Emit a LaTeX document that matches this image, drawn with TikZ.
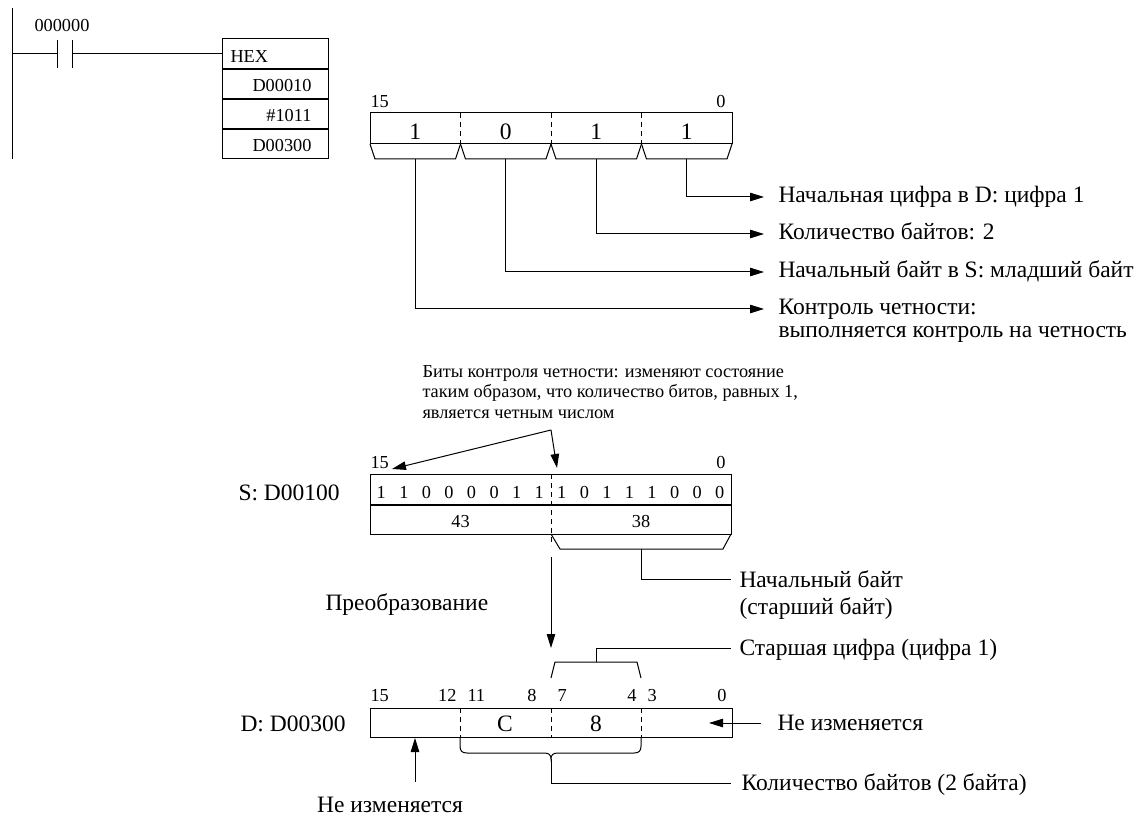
\documentclass[tikz,border=0pt]{standalone}
\usepackage{fontspec}
\setmainfont{Liberation Serif}
\usetikzlibrary{arrows.meta,calc,positioning}
\tikzset{
  big/.style={font=\fontsize{23.5}{25}\selectfont, inner sep=0pt},
  small/.style={font=\fontsize{18.3}{20}\selectfont, inner sep=0pt},
  ladderrow/.style={draw, minimum width=106pt, minimum height=30pt, inner sep=0pt, outer sep=0pt},
  regbox/.style={draw, inner sep=0pt, outer sep=0pt, anchor=north west},
  sepline/.style={line width=2pt},
  dashdiv/.style={dash pattern=on 5pt off 4pt},
  arr/.style={-{Triangle[length=14pt,width=8.5pt]}},
}

\begin{document}
\begin{tikzpicture}[x=1pt,y=-1pt,line width=1pt]
  \useasboundingbox (0,0) rectangle (1144,818);
  \def\bl{370}
  \def\bw{90.5}
  \def\sw{22.5625}
  %Ladder rung
  \coordinate (railtop) at (12,8);
  \coordinate (railbot) at (12,159);
  \coordinate (rung) at (12,54);
  \coordinate (cl) at (57,54);
  \coordinate (cr) at (72,54);
  \draw (railtop) -- (railbot);
  \draw (rung) -- (cl);
  \draw ($(cl)+(0,-14)$) -- ($(cl)+(0,14)$);
  \draw ($(cr)+(0,-14)$) -- ($(cr)+(0,14)$);
  \node[small, anchor=base] (contact) at (62,32) {000000};
  \node[ladderrow] (hex) at (275,54) {};
  \node[ladderrow, below=0pt of hex] (op1) {};
  \node[ladderrow, below=0pt of op1] (op2) {};
  \node[ladderrow, below=0pt of op2] (op3) {};
  \draw (cr) -- (hex.west);
  \foreach \r in {hex,op1,op2} {
      \draw[sepline] (\r.south west) -- (\r.south east);
    }
  \node[small, anchor=base west] (hexlbl) at ($(hex.west)+(8,9)$) {HEX};
  \node[small, anchor=base east] (op1lbl) at ($(op1.east)+(-16,8)$) {D00010};
  \node[small, anchor=base east] (op2lbl) at ($(op2.east)+(-16,8)$) {\#1011};
  \node[small, anchor=base east] (op3lbl) at ($(op3.east)+(-16,8)$) {D00300};

  %Control word
  \node[regbox, minimum width=362pt, minimum height=31pt] (ctrl) at (\bl,113) {};
  \node[small, anchor=base west] (c15) at (370,108) {15};
  \node[small, anchor=base east] (c0) at (726,108) {0};
  \foreach \d [count=\i from 0] in {1,0,1,1} {
      \pgfmathsetmacro{\xa}{\bl+\i*\bw}
      \pgfmathsetmacro{\xb}{\xa+\bw}
      \pgfmathsetmacro{\xc}{\xa+\bw/2}
      \node[big, anchor=base] (dig\i) at (\xc,140) {\d};
      \draw (\xa,144) -- (\xa+5,159) -- (\xb-5,159) -- (\xb,144);
      \coordinate (tab\i) at (\xc,159);
    }
  \foreach \i in {1,2,3} {
      \draw[dashdiv] (\bl+\i*\bw,113) -- (\bl+\i*\bw,144);
    }
  \coordinate (tip3) at (764,197);
  \coordinate (tip2) at (764,234);
  \coordinate (tip1) at (764,272);
  \coordinate (tip0) at (764,309);
  \foreach \i in {0,1,2,3} {
      \draw[arr] (tab\i) |- (tip\i);
    }
  \node[big, anchor=base west] (lbl3) at (778,203) {Начальная цифра в D: цифра 1};
  \node[big, anchor=base west] (lbl2) at (778,240) {Количество байтов: 2};
  \node[big, anchor=base west] (lbl1) at (778,278) {Начальный байт в S: младший байт};
  \node[big, anchor=base west] (lbl0) at (778,315) {Контроль четности:};
  \node[big, anchor=base west] (lbl0b) at ($(lbl0.base west)+(0,23)$) {выполняется контроль на четность};

  %Source word
  \node[small, anchor=base west] (note1) at (422,378) {Биты контроля четности: изменяют состояние};
  \node[small, anchor=base west] (note2) at ($(note1.base west)+(0,20)$) {таким образом, что количество битов, равных 1,};
  \node[small, anchor=base west] (note3) at ($(note2.base west)+(0,20)$) {является четным числом};
  \coordinate (kink) at (551,430);
  \coordinate (p15) at (392,469);
  \coordinate (pmid) at (557,468);
  \draw[arr] (kink) -- (p15);
  \draw[arr] (kink) -- (pmid);
  \node[big, anchor=base west] (sname) at (238,500) {S: D00100};
  \node[small, anchor=base west] (s15) at (370,468) {15};
  \node[small, anchor=base east] (s0) at (726,468) {0};
  \node[regbox, minimum width=361pt, minimum height=60pt] (sreg) at (\bl,474) {};
  \coordinate (smidl) at (\bl,505);
  \coordinate (smidr) at (731,505);
  \draw[sepline] (smidl) -- (smidr);
  \draw[dashdiv] (551,474) -- (551,546);
  \foreach \b [count=\i from 0] in {1,1,0,0,0,0,1,1,1,0,1,1,1,0,0,0} {
      \pgfmathsetmacro{\xc}{\bl+(\i+0.5)*\sw}
      \node[small, anchor=base] (sb\i) at (\xc,498) {\b};
    }
  \node[small, anchor=base] (hi) at (460.5,527) {43};
  \node[small, anchor=base] (lo) at (641,527) {38};
  \draw (551,534) -- (560,549) -- (723,549) -- (731,534);
  \coordinate (stab) at (641,549);
  \coordinate (sbend) at (731,579);
  \draw (stab) |- (sbend);
  \node[big, anchor=base west] (slbl) at (739,587) {Начальный байт};
  \node[big, anchor=base west] (slblb) at ($(slbl.base west)+(0,27)$) {(старший байт)};
  \node[big, anchor=base west] (conv) at (325,610) {Преобразование};
  \coordinate (convtop) at (551,557);
  \coordinate (convtip) at (551,648);
  \draw[arr] (convtop) -- (convtip);

  %Destination word
  \node[big, anchor=base west] (dname) at (240,731) {D: D00300};
  \node[regbox, minimum width=362pt, minimum height=29pt] (dreg) at (\bl,708) {};
  \foreach \x in {460,551,641} {
      \draw[dashdiv] (\x,708) -- (\x,737);
    }
  \foreach \t/\x/\a in {15/370/west,12/457/east,11/467/west,8/537/east,7/557/west,4/637/east,3/647/west,0/727/east} {
      \node[small, anchor=base \a] (db\t) at (\x,701) {\t};
    }
  \node[big, anchor=base] (dC) at (505,731) {C};
  \node[big, anchor=base] (d8) at (596,731) {8};
  \draw (551,678) -- (555,662) -- (637,662) -- (641,678);
  \coordinate (dtab) at (596,662);
  \coordinate (dbend) at (731,648);
  \draw (dtab) |- (dbend);
  \node[big, anchor=base west] (dlbl) at (739,655) {Старшая цифра (цифра 1)};
  \coordinate (rarr) at (761,723);
  \coordinate (rtip) at (709,723);
  \draw[arr] (rarr) -- (rtip);
  \node[big, anchor=base west] (rlbl) at (777,730) {Не изменяется};
  \coordinate (uarr) at (415,782);
  \coordinate (utip) at (415,738);
  \draw[arr] (uarr) -- (utip);
  \node[big, anchor=base] (ulbl) at (390,812) {Не изменяется};
  \coordinate (brl) at (460,737);
  \coordinate (brr) at (641,737);
  \coordinate (brc) at (551,759);
  \draw (brl) -- (460,746) .. controls (460,751) and (462,753) .. (467,753) -- (544,753)
    .. controls (549,753) and (551,755) .. (brc) .. controls (551,755) and (553,753) .. (558,753)
    -- (634,753) .. controls (639,753) and (641,751) .. (641,746) -- (brr);
  \coordinate (cntend) at (731,783);
  \draw (brc) |- (cntend);
  \node[big, anchor=base west] (cntlbl) at (741,790) {Количество байтов (2 байта)};
\end{tikzpicture}
\end{document}
